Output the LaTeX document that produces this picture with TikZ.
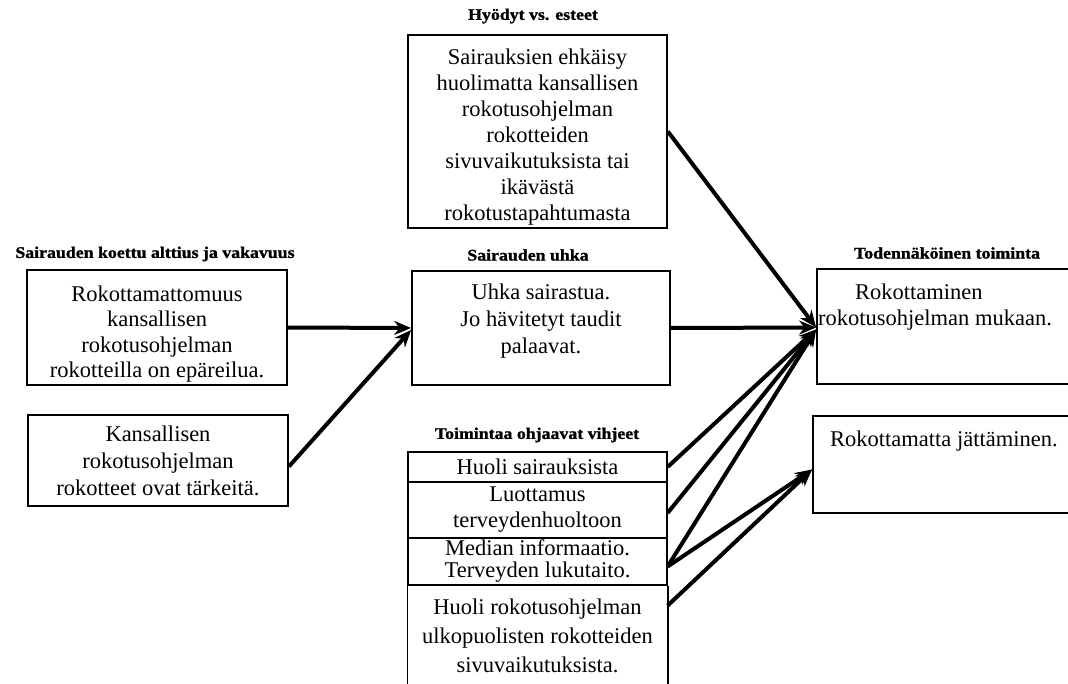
\documentclass[tikz,border=0pt]{standalone}
\usepackage{fontspec}
\setmainfont{Liberation Serif}
\newfontfamily\ttlfont[FakeStretch=1.1,FakeBold=1.2]{Liberation Serif}
\usetikzlibrary{arrows.meta}
\begin{document}
\begin{tikzpicture}[x=1pt,y=-1pt,
  box/.style={draw, line width=1.8pt, inner sep=0pt},
  body/.style={font=\fontsize{22.5}{26}\selectfont, align=center, inner sep=0pt},
  ttl/.style={font=\ttlfont\bfseries\fontsize{16.2}{18}\selectfont, inner sep=0pt},
  arr/.style={line width=4pt, -{Stealth[length=17pt,width=14pt]}},
  row/.style={draw, line width=1.2pt, inner sep=0pt, minimum width=259pt, align=center, font=\fontsize{22.5}{26}\selectfont}]
\useasboundingbox (0,0) rectangle (1068,684);

% titles
\node[ttl] (t1) at (533,16) {Hyödyt vs. esteet};
\node[ttl] (t2) at (155,254) {Sairauden koettu alttius ja vakavuus};
\node[ttl] (t3) at (528,255) {Sairauden uhka};
\node[ttl] (t4) at (947,253) {Todennäköinen toiminta};
\node[ttl] (t5) at (537,435) {Toimintaa ohjaavat vihjeet};

% top box
\node[box, minimum width=259pt, minimum height=193pt] (top) at (537.5,131.5) {};
\node[body] (topt) at (537.5,137) {Sairauksien ehkäisy\\huolimatta kansallisen\\rokotusohjelman\\rokotteiden\\sivuvaikutuksista tai\\ikävästä\\rokotustapahtumasta};

% left boxes
\node[box, minimum width=260pt, minimum height=115pt] (l1) at (157,327.5) {};
\node[body, font=\fontsize{22.5}{25.5}\selectfont] (l1t) at (157,334) {Rokottamattomuus\\kansallisen\\rokotusohjelman\\rokotteilla on epäreilua.};
\node[box, minimum width=260pt, minimum height=91pt] (l2) at (158,460.5) {};
\node[body, font=\fontsize{22.5}{27}\selectfont] (l2t) at (158,461) {Kansallisen\\rokotusohjelman\\rokotteet ovat tärkeitä.};

% middle box
\node[box, minimum width=258pt, minimum height=114pt] (mid) at (541,328) {};
\node[body, font=\fontsize{22.5}{27}\selectfont] (midt) at (541,321) {Uhka sairastua.\\Jo hävitetyt taudit\\palaavat.};

% right boxes
\node[box, minimum width=256pt, minimum height=115pt] (r1) at (945,326.5) {};
\node[body, align=left, anchor=north west] (r1t) at (818,284) {\hspace*{37pt}Rokottaminen\\rokotusohjelman mukaan.};
\node[box, minimum width=260pt, minimum height=97pt] (r2) at (943,464.5) {};
\node[body, anchor=west] (r2t) at (830,441) {Rokottamatta jättäminen.};

% cue box
\node[row, minimum height=30pt] (c1) at (537.5,467) {Huoli sairauksista};
\node[row, minimum height=56pt] (c2) at (537.5,510) {Luottamus\\terveydenhuoltoon};
\node[row, minimum height=47pt, font=\fontsize{22.5}{22}\selectfont] (c3) at (537.5,561.5) {Median informaatio.\\Terveyden lukutaito.};
\draw[line width=1.8pt] (c1.north west) -- (c1.north east);
\coordinate (c4nw) at (c3.south west);
\coordinate (c4ne) at (c3.south east);
\draw[line width=1.8pt] (c4nw) -- ++(0,100);
\draw[line width=1.8pt] (c4ne) -- ++(0,100);
\node[body, font=\fontsize{22.5}{29}\selectfont] (c4) at (537.5,636) {Huoli rokotusohjelman\\ulkopuolisten rokotteiden\\sivuvaikutuksista.};

% connectors
\draw[arr] (l1.east) -- (mid.west);
\draw[arr] ([yshift=-6pt]l2.east) -- ([yshift=-2pt]mid.west);
\draw[arr] (top.east) -- ([yshift=-1pt]r1.west);
\draw[arr] (mid.east) -- ([yshift=-1pt]r1.west);
\draw[arr] (c1.east) -- ([yshift=-3pt]r1.west);
\draw[arr] ([yshift=-3pt]c2.east) -- ([yshift=-3pt]r1.west);
\draw[arr] ([yshift=-5pt]c3.east) -- ([yshift=-3pt]r1.west);
\draw[arr] ([yshift=-5pt]c3.east) -- ([yshift=-5pt]r2.west);
\draw[arr] ([yshift=-20pt]c4ne) -- ([yshift=-5pt]r2.west);
\end{tikzpicture}
\end{document}
